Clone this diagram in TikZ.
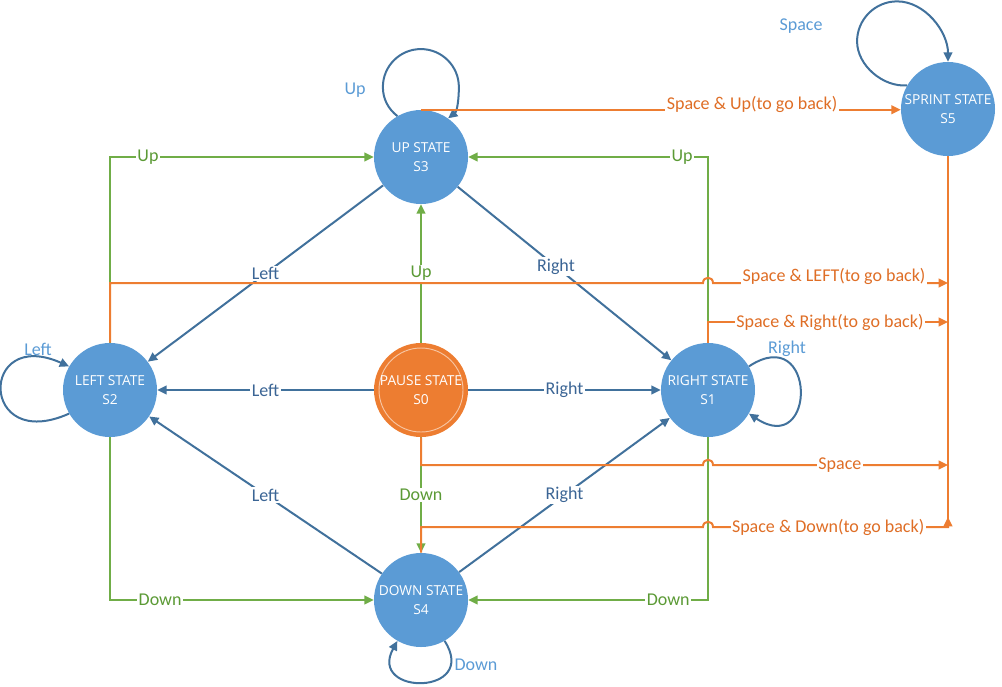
\documentclass[tikz,border=0pt]{standalone}
\usepackage{fontspec}
\setmainfont{Carlito}
\newfontfamily\statefont{Open Sans}
\usepackage{tikz}
\usetikzlibrary{arrows.meta,positioning,calc}

\definecolor{stblue}{HTML}{5B9BD5}
\definecolor{storange}{HTML}{ED7D31}
\definecolor{lnblue}{HTML}{41719C}
\definecolor{lbblue}{HTML}{3B6595}
\definecolor{lngreen}{HTML}{70AD47}
\definecolor{lbgreen}{HTML}{5B9A35}
\definecolor{lborange}{HTML}{DF6E26}

\tikzset{
  state/.style={circle, fill=stblue, minimum size=70.5pt, inner sep=0pt, text=white,
    align=center, font=\statefont\fontsize{10.3}{14}\selectfont},
  pause/.style={state, fill=storange, path picture={\draw[white!55!storange, line width=0.7pt]
    (path picture bounding box.center) circle[radius=31.5pt];}},
  blueline/.style={draw=lnblue, line width=1.5pt, -{Triangle[length=7pt,width=6.5pt]}},
  greenline/.style={draw=lngreen, line width=1.5pt, -{Triangle[length=7pt,width=6.5pt]}},
  orangeline/.style={draw=storange, line width=1.5pt, -{Triangle[length=7pt,width=6.5pt]}},
  elabel/.style={fill=white, inner sep=1pt, font=\fontsize{13.5}{16}\selectfont},
  blabel/.style={elabel, text=lbblue},
  glabel/.style={elabel, text=lbgreen},
  olabel/.style={elabel, text=lborange},
  looplabel/.style={font=\fontsize{13.5}{16}\selectfont, text=stblue}
}

\begin{document}
\begin{tikzpicture}[x=0.75pt, y=-0.75pt]
    \useasboundingbox (0,0) rectangle (1002,686);

    \node[state] (s3) at (421,157) {UP STATE\\S3};
    \node[state] (s2) at (110,390) {LEFT STATE\\S2};
    \node[pause] (s0) at (421,390) {PAUSE STATE\\S0};
    \node[state] (s1) at (708,390) {RIGHT STATE\\S1};
    \node[state] (s4) at (421,600) {DOWN STATE\\S4};
    \node[state] (s5) at (948,109) {SPRINT STATE\\S5};

    \coordinate (busL) at (948,283);
    \coordinate (busR) at (948,322);
    \coordinate (busS) at (948,465);
    \coordinate (busD) at (948,527);

    % self loops
    \draw[blueline] (s3.120) .. controls +(-9,-7) and +(0,12) .. ++(-14.5,-29)
        .. controls +(0,-21) and +(-21,0) .. ++(38,-38)
        .. controls +(21,0) and +(0,-21) .. ++(38,38)
        .. controls +(0,12) and +(9,-7) .. (s3.55)
        node[looplabel] at (355,90) {Up};
    \draw[blueline] (s2.210) .. controls +(-90,40) and +(-90,-40) .. (s2.150)
        node[looplabel] at (38,349) {Left};
    \draw[blueline] (s1.30) .. controls +(68,-45) and +(68,45) .. (s1.-30)
        node[looplabel] at (787,349) {Right};
    \draw[blueline] (s4.-60) .. controls +(35,55) and +(-30,55) .. (s4.-120)
        node[looplabel] at (476,665) {Down};
    \draw[blueline] (s5.150) .. controls +(-24,2) and +(0,24) .. ++(-50,-44)
        .. controls +(0,-22) and +(-22,0) .. ++(40,-40)
        .. controls +(28,0) and +(0,-30) .. (s5.north)
        node[looplabel] at (801,26) {Space};

    % left / right
    \draw[blueline] (s3) -- node[blabel] {Left} (s2);
    \draw[blueline] (s3) -- node[blabel, pos=0.46] {Right} (s1);
    \draw[blueline] (s0) -- node[blabel] {Left} (s2);
    \draw[blueline] (s0) -- node[blabel] {Right} (s1);
    \draw[blueline] (s4) -- node[blabel] {Left} (s2);
    \draw[blueline] (s4) -- node[blabel] {Right} (s1);

    % up / down
    \draw[greenline] (s2.north) |- node[glabel, pos=0.572] {Up} (s3.west);
    \draw[greenline] (s1.north) |- node[glabel, pos=0.554] {Up} (s3.east);
    \draw[greenline] (s2.south) |- node[glabel, pos=0.595] {Down} (s4.west);
    \draw[greenline] (s1.south) |- node[glabel, pos=0.583] {Down} (s4.east);
    \draw[greenline] (s0) -- node[glabel] {Up} (s3);
    \draw[greenline] (s0) -- node[glabel] {Down} (s4);

    % space
    \draw[orangeline, -] (s5.south) -- (busD);
    \draw[orangeline] (s3.north) -- node[olabel, pos=0.69, yshift=4pt] {Space \& Up(to go back)}
        (s3.north -| s5.west);
    \draw[orangeline] (s2.north) |- ($(s1 |- busL)+(-5,0)$)
        .. controls +(0,-7) and +(0,-7) .. ++(10,0)
        -- node[olabel, pos=0.515, yshift=5pt] {Space \& LEFT(to go back)} (busL);
    \draw[orangeline] (s1.north) |- node[olabel, pos=0.754] {Space \& Right(to go back)} (busR);
    \draw[orangeline] (s0.south) |- ($(s1 |- busS)+(-5,0)$)
        .. controls +(0,-7) and +(0,-7) .. ++(10,0)
        -- node[olabel, pos=0.54] {Space} (busS);
    \draw[orangeline] (s4.north) |- ($(s1 |- busD)+(-5,0)$)
        .. controls +(0,-7) and +(0,-7) .. ++(10,0)
        -- node[olabel, pos=0.49] {Space \& Down(to go back)} (busD) -- ++(0,-10);
\end{tikzpicture}
\end{document}
